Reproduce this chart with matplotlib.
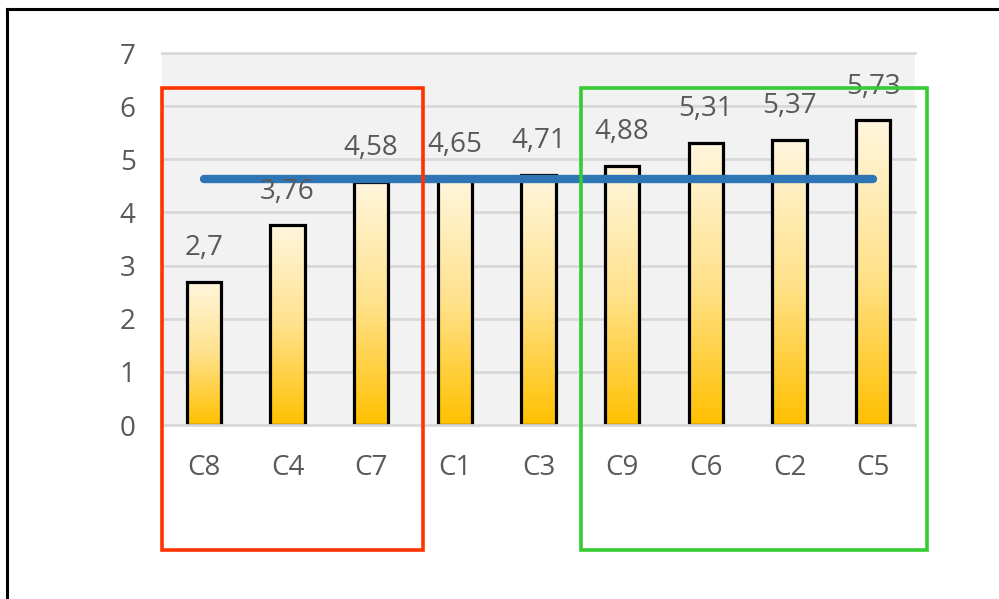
import numpy as np
import matplotlib
matplotlib.use("Agg")
import matplotlib.pyplot as plt
from matplotlib.colors import LinearSegmentedColormap
from matplotlib.patches import Rectangle
from matplotlib.lines import Line2D

categories = ["C8", "C4", "C7", "C1", "C3", "C9", "C6", "C2", "C5"]
values = [2.7, 3.76, 4.58, 4.65, 4.71, 4.88, 5.31, 5.37, 5.73]
value_labels = ["2,7", "3,76", "4,58", "4,65", "4,71", "4,88", "5,31", "5,37", "5,73"]
average_x = ["C8", "C5"]
average_y = [4.63, 4.63]
yticks = [0, 1, 2, 3, 4, 5, 6, 7]

plt.rcParams['font.family'] = ['Open Sans', 'DejaVu Sans']

W, H = 999, 599
fig = plt.figure(figsize=(W / 100, H / 100), dpi=100)
fig.patch.set_facecolor('white')
ax = fig.add_axes([162 / W, (H - 425) / H, 753 / W, 372 / H])
ax.set_facecolor('#f2f2f2')

x = np.arange(len(categories))
for yv in yticks:
    ax.axhline(yv, color='#d9d9d9', lw=2.0, zorder=1 if yv else 4, clip_on=False)

bars = ax.bar(x, values, width=0.41, color='none', edgecolor='black',
              linewidth=2.3, zorder=3)
cmap = LinearSegmentedColormap.from_list('g', ['#ffc000', '#ffe28c', '#fff6de'])
grad = np.linspace(0, 1, 256).reshape(-1, 1)
for b in bars:
    x0, y0 = b.get_x(), b.get_y()
    w, h = b.get_width(), b.get_height()
    im = ax.imshow(grad, cmap=cmap, extent=[x0, x0 + w, y0, y0 + h],
                   origin='lower', aspect='auto', zorder=2, interpolation='bilinear')
    im.set_clip_path(b)

ax.plot([categories.index(c) for c in average_x], average_y, color='#2e75b6', lw=6,
        solid_capstyle='round', zorder=5)

for xi, v, lab in zip(x, values, value_labels):
    ax.annotate(lab, (xi, v), xytext=(0, 24), textcoords='offset points',
                ha='center', va='center', fontsize=20, color='#595959', zorder=6)

ax.set_xlim(-0.5, len(categories) - 0.5)
ax.set_ylim(0, 7)
ax.set_xticks(x)
ax.set_xticklabels(categories)
ax.set_yticks(yticks)
ax.tick_params(axis='both', length=0, labelsize=20, colors='#595959')
ax.tick_params(axis='y', pad=19)
ax.tick_params(axis='x', pad=21)
for s in ax.spines.values():
    s.set_visible(False)

# highlight boxes
fig.add_artist(Rectangle((161.5 / W, (H - 550) / H), (423 - 161.5) / W, (550 - 87.5) / H,
                         transform=fig.transFigure, fill=False, edgecolor='#ff3300', lw=2.6))
fig.add_artist(Rectangle((580.5 / W, (H - 550) / H), (927 - 580.5) / W, (550 - 87.5) / H,
                         transform=fig.transFigure, fill=False, edgecolor='#33cc33', lw=2.6))

# frame lines (left and top)
fig.add_artist(Line2D([7 / W, 7 / W], [0, (H - 9) / H], transform=fig.transFigure,
                      color='black', lw=2.2))
fig.add_artist(Line2D([7 / W, 1], [(H - 9) / H, (H - 9) / H], transform=fig.transFigure,
                      color='black', lw=2.2))

fig.savefig('out.png', dpi=100)
